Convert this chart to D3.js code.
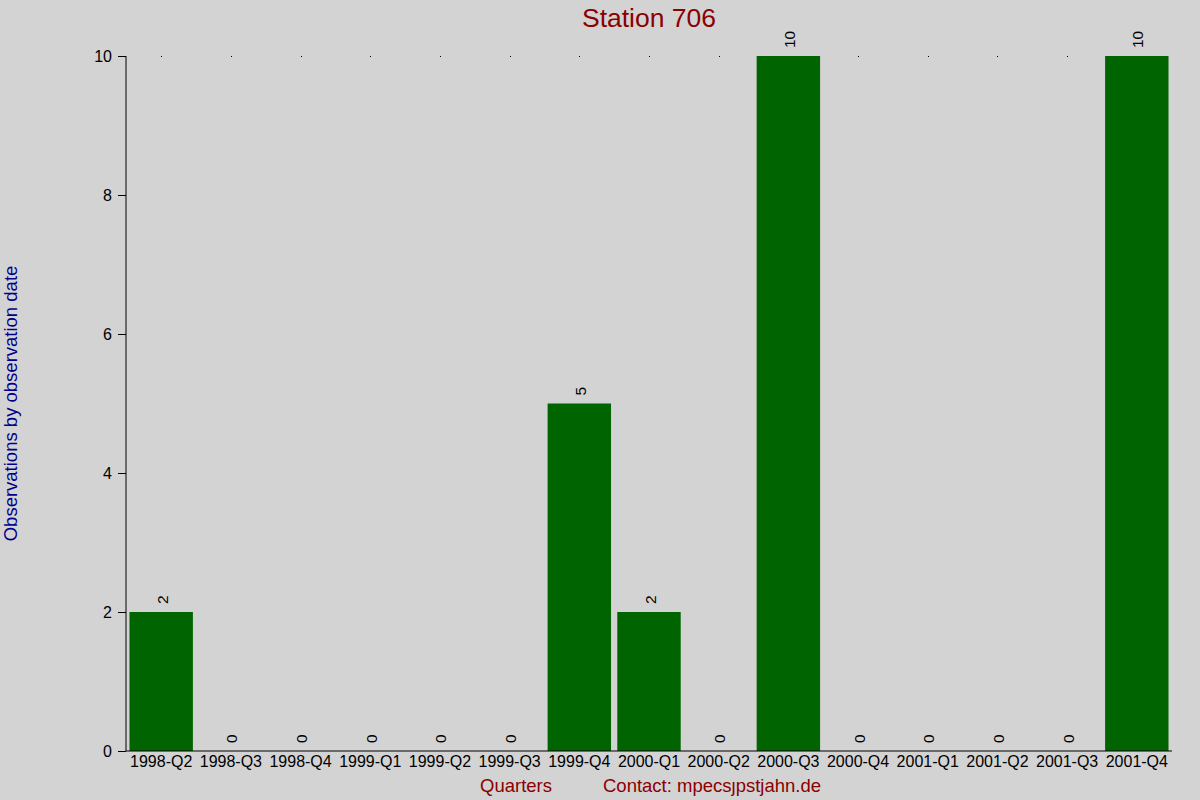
<!DOCTYPE html>
<html>
<head>
<meta charset="utf-8">
<script src="https://cdn.jsdelivr.net/npm/d3@7"></script>
<style>
  body { margin: 0; background: #d3d3d3; }
  svg { display: block; font-family: "Liberation Sans", Arial, sans-serif; }
</style>
</head>
<body>
<svg id="chart"></svg>
<script>
// Chart data
const quarters = ['1998-Q2', '1998-Q3', '1998-Q4', '1999-Q1', '1999-Q2', '1999-Q3', '1999-Q4',
    '2000-Q1', '2000-Q2', '2000-Q3', '2000-Q4', '2001-Q1', '2001-Q2', '2001-Q3', '2001-Q4'];
const counts = [2, 0, 0, 0, 0, 0, 5, 2, 0, 10, 0, 0, 0, 0, 10];
const yTicks = [0, 2, 4, 6, 8, 10];

const width = 1200, height = 800;
const margin = {top: 56, right: 28, bottom: 49, left: 126};
const fontFamily = '"Liberation Sans", Arial, sans-serif';

const svg = d3.select('#chart')
    .attr('width', width)
    .attr('height', height);

svg.append('rect')
    .attr('width', width)
    .attr('height', height)
    .attr('fill', '#d3d3d3');

const x = d3.scaleBand()
    .domain(quarters)
    .range([margin.left, width - margin.right])
    .paddingInner(0.09)
    .paddingOuter(0.05);

const y = d3.scaleLinear()
    .domain([0, 10])
    .range([height - margin.bottom, margin.top]);

const data = quarters.map((q, i) => ({q: q, v: counts[i]}));

// little dots at the top of each column
svg.append('g')
    .selectAll('rect')
    .data(data)
    .join('rect')
    .attr('x', d => Math.round(x(d.q) + x.bandwidth() / 2))
    .attr('y', y(10))
    .attr('width', 1)
    .attr('height', 1)
    .attr('fill', '#000');

// bars
svg.append('g')
    .selectAll('rect')
    .data(data.filter(d => d.v > 0))
    .join('rect')
    .attr('x', d => x(d.q))
    .attr('y', d => y(d.v))
    .attr('width', x.bandwidth())
    .attr('height', d => y(0) - y(d.v))
    .attr('fill', '#006400');

// value labels
svg.append('g')
    .selectAll('text')
    .data(data)
    .join('text')
    .attr('transform', d => `translate(${x(d.q) + x.bandwidth() / 2 + 6.5},${y(d.v) - 8}) rotate(-90)`)
    .attr('font-size', 15.5)
    .attr('font-family', fontFamily)
    .attr('fill', '#000')
    .text(d => d.v);

// y axis
const yAxis = svg.append('g')
    .attr('transform', `translate(${margin.left},0)`)
    .call(d3.axisLeft(y).tickValues(yTicks).tickSize(8).tickPadding(6));
yAxis.select('.domain').attr('d', `M0,${y(10)}V${y(0)}`);
yAxis.selectAll('text').attr('font-size', 16).attr('font-family', fontFamily);

// x axis
const xAxis = svg.append('g')
    .attr('transform', `translate(0,${y(0)})`)
    .call(d3.axisBottom(x).tickSize(0).tickPadding(5));
xAxis.select('.domain').attr('d', `M${margin.left},0H${width - margin.right}`);
xAxis.selectAll('text').attr('font-size', 16).attr('font-family', fontFamily);

// title
svg.append('text')
    .attr('x', 649)
    .attr('y', 27)
    .attr('text-anchor', 'middle')
    .attr('font-size', 26.5)
    .attr('font-family', fontFamily)
    .attr('fill', '#8b0000')
    .text('Station 706');

// y label
svg.append('text')
    .attr('transform', `translate(17,${(y(0) + y(10)) / 2}) rotate(-90)`)
    .attr('text-anchor', 'middle')
    .attr('font-size', 18.5)
    .attr('font-family', fontFamily)
    .attr('fill', '#00008b')
    .text('Observations by observation date');

// x label + contact
svg.append('text')
    .attr('x', 516)
    .attr('y', 792)
    .attr('text-anchor', 'middle')
    .attr('font-size', 18.5)
    .attr('font-family', fontFamily)
    .attr('fill', '#8b0000')
    .text('Quarters');

svg.append('text')
    .attr('x', 603)
    .attr('y', 792)
    .attr('font-size', 18.5)
    .attr('font-family', fontFamily)
    .attr('fill', '#8b0000')
    .text('Contact: mpecs\u0237pstjahn.de');
</script>
</body>
</html>
